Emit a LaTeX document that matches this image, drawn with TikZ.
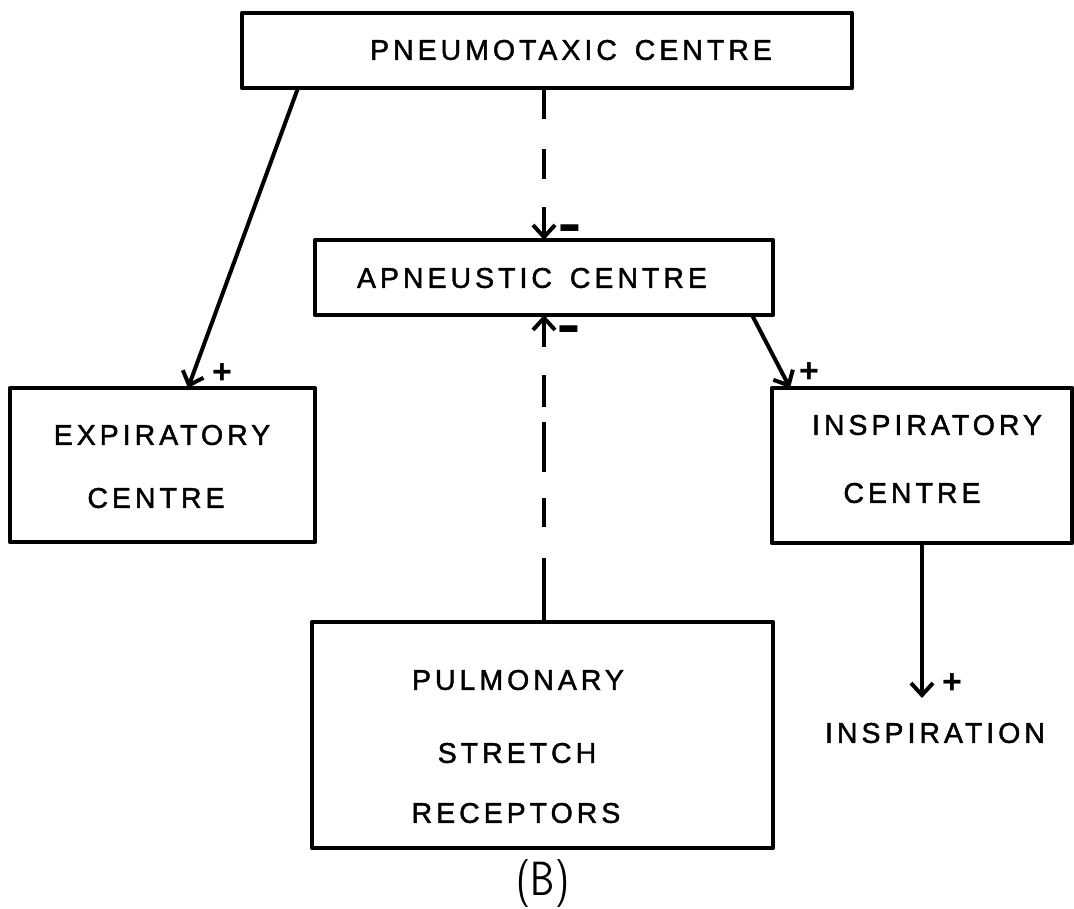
\documentclass[tikz,border=0pt]{standalone}
\usepackage{fontspec}
\usepackage{graphicx}
\setmainfont{Liberation Sans}
\newfontfamily\labfont{Liberation Sans}[LetterSpace=14,FakeBold=1.5,WordSpace=1.5]
\usetikzlibrary{arrows.meta}
\begin{document}
\begin{tikzpicture}[x=1pt,y=-1pt,
  box/.style={draw, line width=4.5pt, inner sep=0pt, outer sep=0pt, line join=round},
  lab/.style={font=\labfont\fontsize{28.5}{34}\selectfont, inner sep=0pt},
  sign/.style={font=\bfseries\fontsize{34}{40}\selectfont, inner sep=0pt},
  minus/.style={sign, anchor=base},
  arr/.style={line width=4pt, -{Straight Barb[length=12pt,width=22pt]}}]
\useasboundingbox[fill=white] (0,0) rectangle (1074,909);
% boxes
\node[box, minimum width=610pt, minimum height=75pt] (pneu) at (547,50.5) {};
\node[lab] (pneutext) at (571,50) {PNEUMOTAXIC CENTRE};
\node[box, minimum width=458pt, minimum height=75pt] (apn) at (544,277.5) {};
\node[lab] (apntext) at (532,278) {APNEUSTIC CENTRE};
\node[box, minimum width=305pt, minimum height=154pt] (exp) at (162.5,465) {};
\node[lab] (exptext1) at (162,435) {EXPIRATORY};
\node[lab] (exptext2) at (156,498) {CENTRE};
\node[box, minimum width=300pt, minimum height=155pt] (insp) at (922,465.5) {};
\node[lab] (insptext1) at (927,425) {INSPIRATORY};
\node[lab] (insptext2) at (912,493) {CENTRE};
\node[box, minimum width=461pt, minimum height=226pt] (pulm) at (542.5,735) {};
\node[lab] (pulmtext1) at (518,680) {PULMONARY};
\node[lab] (pulmtext2) at (517,753) {STRETCH};
\node[lab] (pulmtext3) at (516,813) {RECEPTORS};
\node[lab] (inspiration) at (935,733) {INSPIRATION};
\node[font=\sffamily\fontsize{48}{50}\selectfont, inner sep=0pt] (fig) at (543,884) {\scalebox{0.8}[1]{(B)}};
% connectors
\draw[arr] ([xshift=56pt]pneu.south west) -- ([xshift=178pt]exp.north west);
\draw[arr, dash pattern=on 31pt off 30pt on 30pt off 28pt on 60pt] (apn.north |- pneu.south) -- (apn.north);
\draw[arr, dash pattern=on 64pt off 31pt on 29pt off 26pt on 50pt off 15pt on 32pt off 28pt on 60pt] (apn.south |- pulm.north) -- (apn.south);
\draw[arr] ([xshift=-21pt]apn.south east) -- ([xshift=18pt]insp.north west);
\coordinate (insptip) at (923,698);
\draw[arr] (insp.south) -- (insp.south |- insptip);
% signs
\node[sign] (s1) at (222,374) {+};
\node[minus] (s2) at (570,249) {\scalebox{1.05}[1.8]{−}};
\node[minus] (s3) at (569,349) {\scalebox{1.05}[1.8]{−}};
\node[sign] (s4) at (809,373) {+};
\node[sign] (s5) at (952,684) {+};
\end{tikzpicture}
\end{document}
